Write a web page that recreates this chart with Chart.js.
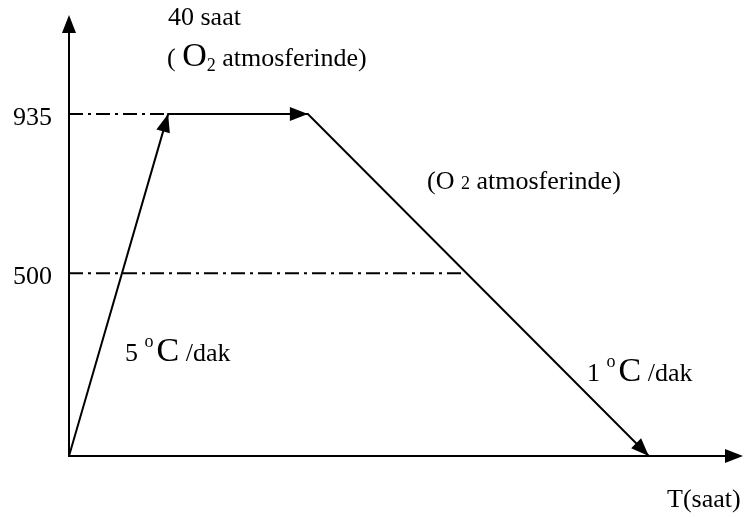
<!DOCTYPE html>
<html>
<head>
<meta charset="utf-8">
<script src="https://cdn.jsdelivr.net/npm/chart.js@4.4.1/dist/chart.umd.min.js"></script>
<style>
  html, body { margin: 0; padding: 0; background: #fff; }
  #wrap { width: 744px; height: 517px; }
</style>
</head>
<body>
<div id="wrap"><canvas id="chart"></canvas></div>
<script>
// profil: zaman (keyfi birim) / sıcaklık (°C)
const profileTime = [0, 10, 24.1, 58.5];
const profileTemp = [0, 935, 935, 0];
const levelTicks = [935, 500];
const level935Time = [0, 10];
const level500Time = [0, 40.1];

const serif = '"Liberation Serif", "Times New Roman", serif';

function pts(xs, ys) {
    return xs.map((x, i) => ({ x: x, y: ys[i] }));
}

function arrowHead(ctx, x0, y0, x1, y1, len, half) {
    const a = Math.atan2(y1 - y0, x1 - x0);
    ctx.beginPath();
    ctx.moveTo(x1, y1);
    ctx.lineTo(x1 - len * Math.cos(a) + half * Math.sin(a), y1 - len * Math.sin(a) - half * Math.cos(a));
    ctx.lineTo(x1 - len * Math.cos(a) - half * Math.sin(a), y1 - len * Math.sin(a) + half * Math.cos(a));
    ctx.closePath();
    ctx.fill();
}

// parçalı yazı: [metin, boyut, dikey kayma, ek boşluk]
function drawRuns(ctx, x, y, runs) {
    ctx.textBaseline = 'alphabetic';
    ctx.textAlign = 'left';
    runs.forEach(r => {
        ctx.font = r[1] + 'px ' + serif;
        ctx.fillText(r[0], x, y + (r[2] || 0));
        x += ctx.measureText(r[0]).width + (r[3] || 0);
    });
}

const decorPlugin = {
    id: 'decor',
    beforeDatasetsDraw(chart) {
        const ctx = chart.ctx;
        const xs = chart.scales.x, ys = chart.scales.y;
        const a = chart.chartArea;
        const ox = xs.getPixelForValue(0), oy = ys.getPixelForValue(0);
        ctx.save();
        ctx.strokeStyle = '#000';
        ctx.fillStyle = '#000';
        ctx.lineWidth = 2;
        // eksenler
        ctx.beginPath();
        ctx.moveTo(ox, oy);
        ctx.lineTo(ox, a.top + 10);
        ctx.moveTo(ox - 1, oy);
        ctx.lineTo(a.right - 10, oy);
        ctx.stroke();
        arrowHead(ctx, ox, oy, ox, a.top, 18, 7);
        arrowHead(ctx, ox, oy, a.right, oy, 18, 7);
        ctx.restore();
    },
    afterDatasetsDraw(chart) {
        const ctx = chart.ctx;
        const ys = chart.scales.y;
        ctx.save();
        ctx.fillStyle = '#000';
        // profil okları
        const meta = chart.getDatasetMeta(0).data;
        for (let i = 1; i < meta.length; i++) {
            const p0 = meta[i - 1], p1 = meta[i];
            arrowHead(ctx, p0.x, p0.y, p1.x, p1.y, 18, 7);
        }
        // y etiketleri
        ctx.font = '26px ' + serif;
        ctx.textAlign = 'right';
        ctx.textBaseline = 'alphabetic';
        levelTicks.forEach(v => ctx.fillText(String(v), 52, ys.getPixelForValue(v) + 11));
        // notlar
        drawRuns(ctx, 168, 25, [['40 saat', 26]]);
        drawRuns(ctx, 167, 66, [['( ', 26], ['O', 34], ['2', 18, 5], [' atmosferinde)', 26]]);
        drawRuns(ctx, 427, 189, [['(O ', 26], ['2', 18], [' atmosferinde)', 26]]);
        drawRuns(ctx, 125, 361, [['5 ', 26], ['o', 18, -14, 3], ['C', 34], [' /dak', 26]]);
        drawRuns(ctx, 587, 381, [['1 ', 26], ['o', 18, -14, 3], ['C', 34], [' /dak', 26]]);
        drawRuns(ctx, 667, 507, [['T(saat)', 26]]);
        ctx.restore();
    }
};

new Chart(document.getElementById('chart'), {
    type: 'scatter',
    data: {
        datasets: [{
            data: pts(profileTime, profileTemp),
            showLine: true,
            borderColor: '#000',
            borderWidth: 2,
            pointRadius: 0,
            tension: 0
        }, {
            data: pts(level935Time, [935, 935]),
            showLine: true,
            borderColor: '#000',
            borderWidth: 2,
            borderDash: [14, 5, 3, 5],
            pointRadius: 0
        }, {
            data: pts(level500Time, [500, 500]),
            showLine: true,
            borderColor: '#000',
            borderWidth: 2,
            borderDash: [14, 5, 3, 5],
            pointRadius: 0
        }]
    },
    options: {
        responsive: true,
        maintainAspectRatio: false,
        animation: false,
        layout: { padding: { left: 69, right: 1, top: 15, bottom: 61 } },
        plugins: {
            legend: { display: false },
            tooltip: { enabled: false }
        },
        scales: {
            x: { type: 'linear', min: 0, max: 68, display: false },
            y: { type: 'linear', min: 0, max: 1206, display: false }
        }
    },
    plugins: [decorPlugin]
});
</script>
</body>
</html>
